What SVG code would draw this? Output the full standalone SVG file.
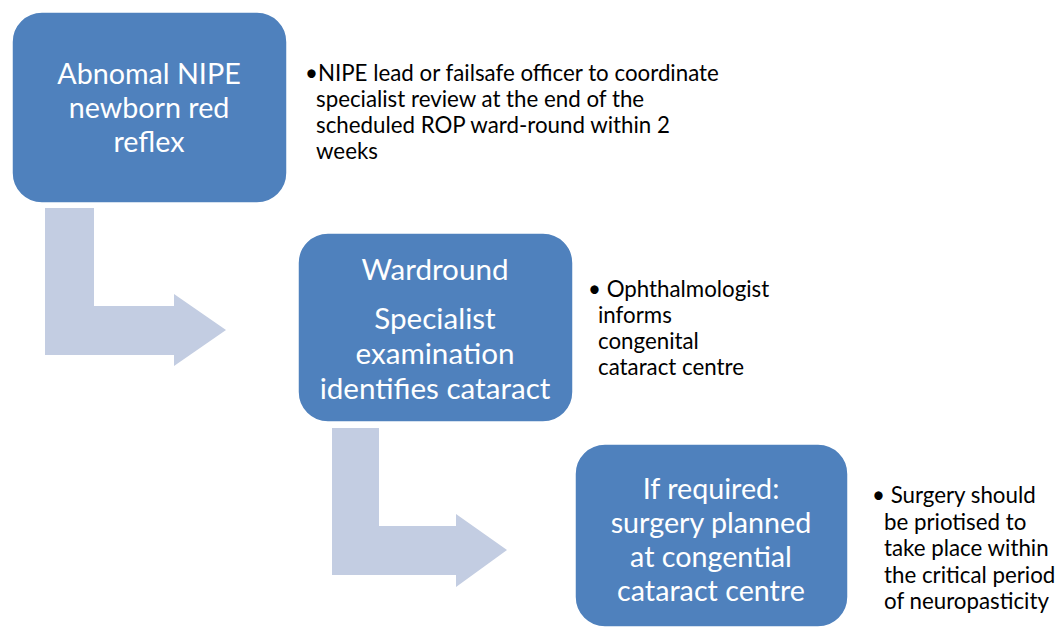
<svg xmlns="http://www.w3.org/2000/svg" width="1060" height="630" viewBox="0 0 1060 630">
  <style>
    .box { fill: #4F81BD; stroke: #ffffff; stroke-width: 1.5; }
    .arrow { fill: #C3CDE2; }
    .lbl { font-family: Lato, "Open Sans", "Liberation Sans", sans-serif; font-size: 28.7px; fill: #ffffff; text-anchor: middle; dominant-baseline: central; }
    .lbl2 { font-size: 29.6px; }
    .note { font-family: Lato, "Open Sans", "Liberation Sans", sans-serif; font-size: 22.3px; fill: #000000; dominant-baseline: central; }
  </style>
  <rect width="1060" height="630" fill="#ffffff"/>

  <!-- bent arrows between steps -->
  <g id="connectors">
    <path class="arrow" d="M45,208 H94 V306 H174 V294 L226,330 L174,366 V355 H45 Z"/>
    <path class="arrow" d="M332,428 H379 V526 H456 V514 L507,550 L456,587 V575 H332 Z"/>
  </g>

  <g id="step1">
    <rect class="box" x="12" y="12" width="275" height="191" rx="30"/>
    <text class="lbl" x="149" y="73">Abnomal NIPE</text>
    <text class="lbl" x="149" y="107">newborn red</text>
    <text class="lbl" x="149" y="141">reflex</text>
  </g>

  <g id="note1">
    <text class="note" x="305" y="72">•NIPE lead or failsafe officer to coordinate</text>
    <text class="note" x="316" y="98">specialist review at the end of the</text>
    <text class="note" x="316" y="124">scheduled ROP ward-round within 2</text>
    <text class="note" x="316" y="150">weeks</text>
  </g>

  <g id="step2">
    <rect class="box" x="298" y="233" width="275" height="189" rx="30"/>
    <text class="lbl lbl2" x="435" y="268">Wardround</text>
    <text class="lbl lbl2" x="435" y="317">Specialist</text>
    <text class="lbl lbl2" x="435" y="352">examination</text>
    <text class="lbl lbl2" x="435" y="387">identifies cataract</text>
  </g>

  <g id="note2">
    <text class="note" x="588" y="288">• Ophthalmologist</text>
    <text class="note" x="598" y="314">informs</text>
    <text class="note" x="598" y="340">congenital</text>
    <text class="note" x="598" y="366">cataract centre</text>
  </g>

  <g id="step3">
    <rect class="box" x="575" y="444" width="273" height="183" rx="30"/>
    <text class="lbl" x="711" y="488">If required:</text>
    <text class="lbl" x="711" y="522">surgery planned</text>
    <text class="lbl" x="711" y="556">at congential</text>
    <text class="lbl" x="711" y="590">cataract centre</text>
  </g>

  <g id="note3">
    <text class="note" x="872" y="494">• Surgery should</text>
    <text class="note" x="884" y="521">be priotised to</text>
    <text class="note" x="884" y="547">take place within</text>
    <text class="note" x="884" y="574">the critical period</text>
    <text class="note" x="884" y="600">of neuropasticity</text>
  </g>
</svg>
